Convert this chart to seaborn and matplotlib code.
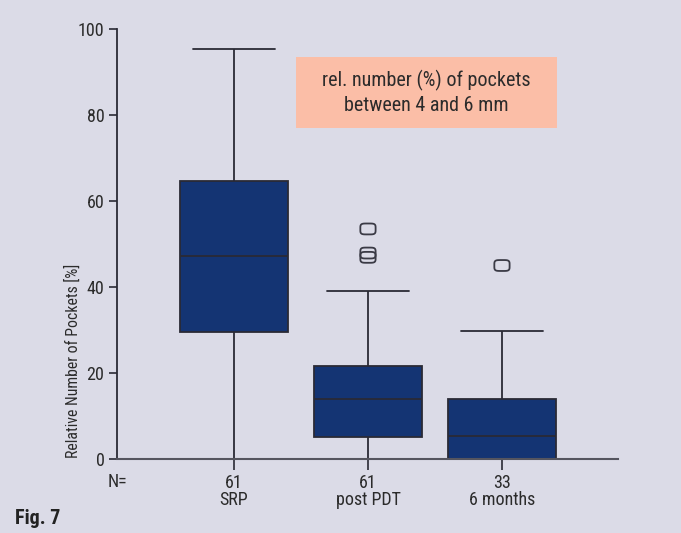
import numpy as np
import pandas as pd
import matplotlib
matplotlib.use("Agg")
import matplotlib.pyplot as plt
from matplotlib.path import Path
from matplotlib.patches import Rectangle
from matplotlib import font_manager
import seaborn as sns

# ---- data ----
groups = ["SRP", "post PDT", "6 months"]
n_values = [61, 61, 33]
whisker_low = [0.0, 0.0, 0.0]
q1 = [29.6, 5.2, 0.0]
median = [47.3, 13.9, 5.4]
q3 = [64.6, 21.7, 13.9]
whisker_high = [95.3, 39.1, 29.8]
outlier_group = ["post PDT", "post PDT", "post PDT", "6 months"]
outlier_value = [53.5, 47.9, 46.9, 45.0]
yticks = [0, 20, 40, 60, 80, 100]

rows = []
for g, a, b, c, d, e in zip(groups, whisker_low, q1, median, q3, whisker_high):
    for v in (a, b, c, d, e):
        rows.append({"group": g, "value": v})
box_df = pd.DataFrame(rows)
out_df = pd.DataFrame({"group": outlier_group, "value": outlier_value})

sns.set_theme(style="ticks")
names = {f.name for f in font_manager.fontManager.ttflist}
narrow = [n for n in ("Liberation Sans Narrow", "Roboto Condensed", "Open Sans Condensed")
          if n in names]
plt.rcParams["font.family"] = narrow + ["DejaVu Sans"]
plt.rcParams["font.stretch"] = "condensed"

BG = "#dbdbe7"
NAVY = "#143473"
LINE = "#2a2a35"
TXT = "#2b2b2b"

fig = plt.figure(figsize=(6.81, 5.33), dpi=100, facecolor=BG)
ax = fig.add_axes([0.1718, 0.1388, 0.7357, 0.8068])
ax.set_facecolor(BG)

sns.boxplot(data=box_df, x="group", y="value", order=groups, ax=ax,
            color=NAVY, saturation=1, width=0.8, linecolor=LINE,
            linewidth=1.3, showfliers=False, whis=1.5)

# widen caps to match the reference
for cont in ax.containers:
    caps = getattr(cont, "caps", None)
    if caps is None:
        continue
    for cap in caps:
        xd = np.asarray(cap.get_xdata(), dtype=float)
        c = xd.mean()
        cap.set_xdata([c - 0.305, c + 0.305])

t = np.linspace(0, 2 * np.pi, 60)
px = np.sign(np.cos(t)) * np.abs(np.cos(t)) ** 0.45 * 0.7
py = np.sign(np.sin(t)) * np.abs(np.sin(t)) ** 0.45 * 0.5
verts = np.column_stack([px, py])
marker = Path(np.vstack([verts, verts[:1]]), closed=True)

sns.stripplot(data=out_df, x="group", y="value", order=groups, ax=ax,
              jitter=False, marker=marker, size=11, color="none",
              edgecolor="#3a3a45", linewidth=1.3)

ax.set_ylim(0, 100)
ax.set_xlim(-0.873, 2.866)
ax.set_yticks(yticks)
ax.set_yticklabels([str(v) for v in yticks], fontsize=13, color=TXT)
ax.set_xticks(range(len(groups)))
ax.set_xticklabels([f"{n}\n{g}" for n, g in zip(n_values, groups)],
                   fontsize=13, color=TXT, linespacing=0.9)
ax.tick_params(axis="x", length=8, width=1.2, color=LINE, pad=3)
ax.tick_params(axis="y", length=6, width=1.2, color=LINE, pad=3)
ax.set_xlabel("")
ax.set_ylabel("")
for side in ("top", "right"):
    ax.spines[side].set_visible(False)
ax.spines["left"].set_color(LINE)
ax.spines["bottom"].set_color("#55555f")
ax.spines["left"].set_linewidth(1.3)
ax.spines["bottom"].set_linewidth(1.5)

ax.text(0.0, -0.032, "N=", transform=ax.transAxes, ha="center", va="top",
        fontsize=13, color=TXT)

fig.text(73 / 681, 1 - 458 / 533, "Relative Number of Pockets [%]",
         rotation=90, ha="center", va="bottom", fontsize=11.3, color=TXT)

ax.add_patch(Rectangle((0.357, 0.77), 0.521, 0.165, transform=ax.transAxes,
                       facecolor="#fbbea7", edgecolor="none", zorder=0.5))
ax.text(0.6175, 0.8525, "rel. number (%) of pockets\nbetween 4 and 6 mm",
        transform=ax.transAxes, ha="center", va="center", fontsize=14.5,
        color=TXT, linespacing=1.3)

fig.text(15 / 681, 1 - 518 / 533, "Fig. 7", ha="left", va="center",
         fontsize=14.5, fontweight="bold", color="#222")

fig.savefig("out.png", dpi=100, facecolor=BG)
